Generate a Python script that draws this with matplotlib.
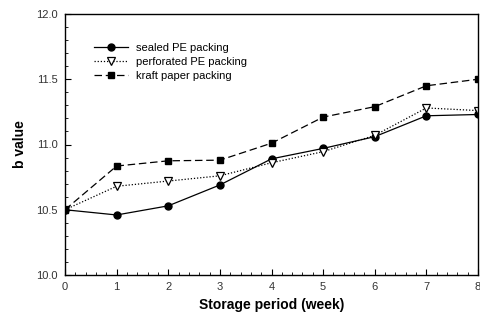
import matplotlib
matplotlib.use("Agg")
import matplotlib.pyplot as plt
from matplotlib.ticker import MultipleLocator

plt.rcParams['font.family'] = ['Liberation Sans', 'DejaVu Sans']

weeks = [0, 1, 2, 3, 4, 5, 6, 7, 8]
sealed_pe = [10.50, 10.46, 10.53, 10.69, 10.89, 10.97, 11.06, 11.22, 11.23]
perforated_pe = [10.50, 10.68, 10.72, 10.76, 10.86, 10.945, 11.07, 11.28, 11.26]
kraft_paper = [10.50, 10.835, 10.875, 10.88, 11.01, 11.21, 11.29, 11.45, 11.50]

fig = plt.figure(figsize=(4.8, 3.17), dpi=100)
ax = fig.add_axes([65 / 480, 1 - 275 / 317, 413 / 480, 261 / 317])

ax.plot(weeks, sealed_pe, color='black', lw=0.9, ls='-', marker='o', ms=5,
        label='sealed PE packing')
ax.plot(weeks, perforated_pe, color='black', lw=0.9, ls=(0, (1, 1.5)), marker='v',
        ms=5.5, mfc='white', mec='black', mew=0.9, label='perforated PE packing')
ax.plot(weeks, kraft_paper, color='black', lw=0.9, ls=(0, (6, 3)), marker='s', ms=4.5,
        label='kraft paper packing')

ax.set_xlim(0, 8)
ax.set_ylim(10.0, 12.0)
ax.xaxis.set_major_locator(MultipleLocator(1))
ax.xaxis.set_minor_locator(MultipleLocator(0.2))
ax.yaxis.set_major_locator(MultipleLocator(0.5))
ax.yaxis.set_minor_locator(MultipleLocator(0.1))
ax.yaxis.set_major_formatter(plt.FormatStrFormatter('%.1f'))
ax.tick_params(which='both', direction='in', labelsize=8, top=False, right=False,
               labelcolor='#333333')
ax.tick_params(which='major', length=4, pad=5)
ax.tick_params(which='minor', length=2.5)
for s in ax.spines.values():
    s.set_linewidth(1.0)

ax.set_xlabel('Storage period (week)', fontsize=10, fontweight='bold', labelpad=4)
ax.set_ylabel('b value', fontsize=10, fontweight='bold', labelpad=7)

ax.legend(loc='upper left', bbox_to_anchor=(0.06, 0.905), frameon=False, fontsize=8,
          handlelength=3, handletextpad=0.8, labelspacing=0.35, borderaxespad=0)

fig.savefig('out.png', dpi=100)
